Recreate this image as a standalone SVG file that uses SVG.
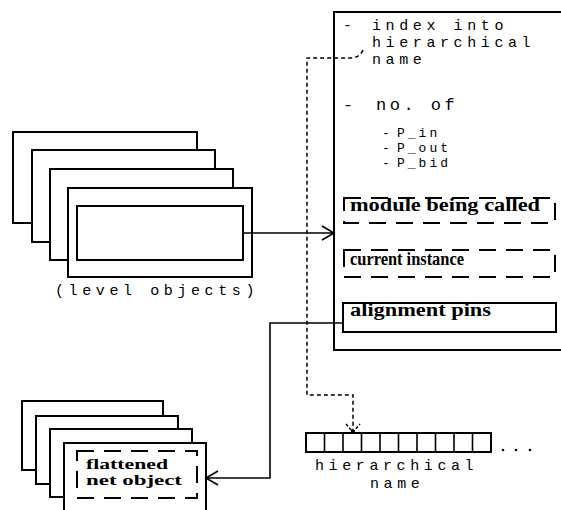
<svg xmlns="http://www.w3.org/2000/svg" width="561" height="510" viewBox="0 0 561 510">
<style>
.box{fill:#fff;stroke:#000;stroke-width:2}
.ln{fill:none;stroke:#000;stroke-width:1.6}
.dash{fill:none;stroke:#000;stroke-width:2;stroke-dasharray:17 10}
.dot{fill:none;stroke:#000;stroke-width:1.5;stroke-dasharray:4 3}
.pl{font-family:"Liberation Mono",monospace;font-size:15px;letter-spacing:4.6px;fill:#000}
.ps{font-family:"Liberation Mono",monospace;font-size:13px;letter-spacing:3px;fill:#000}
.bd{font-family:"Liberation Serif",serif;font-weight:bold;font-size:18px;fill:#000}
.bs{font-family:"Liberation Serif",serif;font-weight:bold;font-size:15px;fill:#000}
</style>
<rect width="561" height="510" fill="#fff"/>
<g id="level-objects">
<rect class="box" x="13" y="132" width="184" height="91"/>
<rect class="box" x="32" y="150" width="183" height="92"/>
<rect class="box" x="50" y="169" width="183" height="91"/>
<rect class="box" x="68" y="188" width="184" height="89"/>
<rect class="box" x="77" y="206" width="166" height="54"/>
<text class="pl" x="55" y="295">(level objects)</text>
</g>
<g id="instance-record">
<path class="ln" d="M561,12 H334 V350 H561" style="stroke-width:2"/>
<text class="pl" x="343" y="30">-</text>
<text class="pl" x="372" y="30">index into</text>
<text class="pl" x="372" y="47">hierarchical</text>
<text class="pl" x="372" y="64">name</text>
<text class="pl" x="343" y="110" style="font-size:17px">-</text>
<text class="pl" x="376" y="110" style="font-size:17px;letter-spacing:3.5px">no. of</text>
<text class="ps" x="382" y="137">-</text>
<text class="ps" x="397" y="137">P_in</text>
<text class="ps" x="382" y="152">-</text>
<text class="ps" x="397" y="152">P_out</text>
<text class="ps" x="382" y="167">-</text>
<text class="ps" x="397" y="167">P_bid</text>
</g>
<g id="module-being-called">
<rect class="dash" x="344" y="198" width="211" height="25"/>
<text class="bd" x="350" y="211" textLength="190" lengthAdjust="spacingAndGlyphs">module being called</text>
</g>
<g id="current-instance">
<rect class="dash" x="344" y="250" width="211" height="27"/>
<text class="bd" x="350" y="265" textLength="114" lengthAdjust="spacingAndGlyphs">current instance</text>
</g>
<g id="alignment-pins">
<rect class="box" x="343" y="303" width="213" height="29"/>
<text class="bd" x="350" y="316" textLength="141" lengthAdjust="spacingAndGlyphs">alignment pins</text>
</g>
<g id="flattened-net-objects">
<rect class="box" x="22" y="401" width="141" height="69"/>
<rect class="box" x="36" y="416" width="142" height="68"/>
<rect class="box" x="50" y="429" width="142" height="68"/>
<rect class="box" x="64" y="443" width="142" height="70"/>
<rect class="dash" x="77" y="451" width="120" height="47"/>
<text class="bs" x="86" y="469" textLength="82" lengthAdjust="spacingAndGlyphs">flattened</text>
<text class="bs" x="86" y="485" textLength="96" lengthAdjust="spacingAndGlyphs">net object</text>
</g>
<g id="hierarchical-name">
<rect class="box" x="306" y="433" width="185" height="19"/>
<path class="ln" d="M324.5,433V452M343,433V452M361.5,433V452M380,433V452M398.5,433V452M417,433V452M435.5,433V452M454,433V452M472.5,433V452"/>
<circle cx="503" cy="450" r="1.3"/>
<circle cx="516" cy="450" r="1.3"/>
<circle cx="530" cy="450" r="1.3"/>
<text class="pl" x="315" y="470">hierarchical</text>
<text class="pl" x="370" y="488">name</text>
</g>
<g id="connectors">
<path class="ln" d="M243,233 H334 M322,226 L334,233 L322,240"/>
<path class="ln" d="M343,323 H270 V478 H206 M218,471 L206,478 L218,485"/>
<path class="dot" d="M363,50 Q360,57 352,58 H307 V395 H353 V430"/>
<path class="dot" d="M346,424 L353,432 L360,424" style="stroke-dasharray:3 2"/>
<rect x="351" y="430" width="4" height="3"/>
</g>
</svg>
